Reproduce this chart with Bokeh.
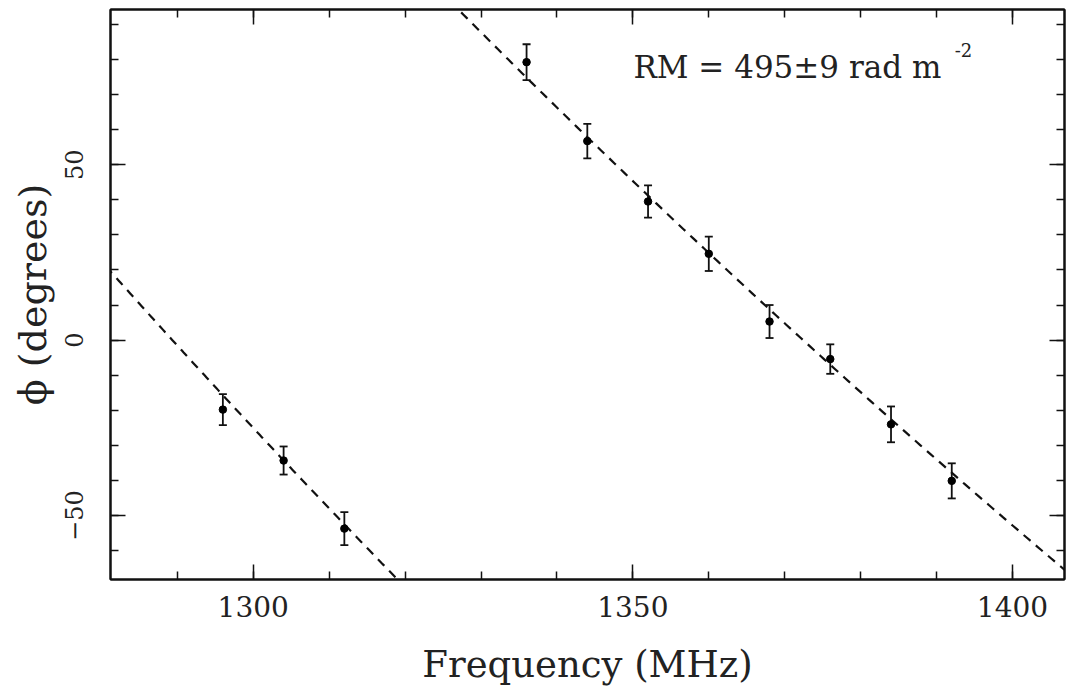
import numpy as np
from bokeh.plotting import figure
from bokeh.models import (Range1d, LinearAxis, SingleIntervalTicker, Whisker,
                          TeeHead, ColumnDataSource, Label)
from bokeh.embed import file_html
from bokeh.resources import INLINE

# ---- data ----
freq_low = [1296, 1304, 1312]
phi_low = [-19.8, -34.3, -53.7]
err_low = [4.4, 4.0, 4.7]

freq_high = [1336, 1344, 1352, 1360, 1368, 1376, 1384, 1392]
phi_high = [79.2, 56.7, 39.5, 24.6, 5.3, -5.4, -24.0, -40.1]
err_high = [5.1, 4.9, 4.6, 4.9, 4.7, 4.2, 5.1, 5.0]

# rotation-measure fit: phi = PHI0 + RM * lambda^2 (deg), two 180-degree branches
RM = 495
RM_ERR = 9
PHI0 = 86.7
branch_low = 9
branch_high = 8
fit_low_span = [1275, 1325]
fit_high_span = [1320, 1410]

y_tick_labels = {-50: "\u221250", 0: "0", 50: "50"}

C_MHZ = 299.792458  # speed of light, m * MHz


def fit_curve(span, branch):
    f = np.linspace(span[0], span[1], 200)
    lam2 = (C_MHZ / f) ** 2
    return f, PHI0 + np.degrees(RM * lam2) - 180.0 * branch


FONT = "DejaVu Serif"

p = figure(width=1074, height=690,
           x_range=Range1d(1281.2, 1406.85), y_range=Range1d(-68.2, 94.2),
           output_backend="svg", toolbar_location=None,
           min_border_left=110, min_border_top=9, min_border_right=10,
           min_border_bottom=111,
           x_axis_label="Frequency (MHz)", y_axis_label="\u03d5 (degrees)")
p.background_fill_color = "white"
p.border_fill_color = "white"
p.grid.visible = False
p.outline_line_color = "#111111"
p.outline_line_width = 2

p.xaxis.ticker = SingleIntervalTicker(interval=50, num_minor_ticks=5)
p.yaxis.ticker = SingleIntervalTicker(interval=50, num_minor_ticks=5)
p.yaxis.major_label_overrides = y_tick_labels


def style_axis(ax):
    ax.axis_line_color = "#111111"
    ax.axis_line_width = 2
    ax.major_tick_in = 15
    ax.major_tick_out = 0
    ax.minor_tick_in = 8
    ax.minor_tick_out = 0
    ax.major_tick_line_color = "#111111"
    ax.minor_tick_line_color = "#111111"
    ax.major_tick_line_width = 1.5
    ax.minor_tick_line_width = 1.5
    ax.major_label_text_font = FONT
    ax.major_label_text_color = "#222222"
    ax.axis_label_text_font = FONT
    ax.axis_label_text_font_style = "normal"
    ax.axis_label_text_color = "#222222"


for ax in p.xaxis + p.yaxis:
    style_axis(ax)

p.xaxis.major_label_text_font_size = "28px"
p.xaxis.major_label_standoff = 16
p.xaxis.axis_label_text_font_size = "37px"
p.xaxis.axis_label_standoff = 23

p.yaxis.major_label_text_font_size = "24px"
p.yaxis.major_label_orientation = "vertical"
p.yaxis.major_label_standoff = 27
p.yaxis.axis_label_text_font_size = "38px"
p.yaxis.axis_label_standoff = 8

top = LinearAxis(ticker=SingleIntervalTicker(interval=50, num_minor_ticks=5))
right = LinearAxis(ticker=SingleIntervalTicker(interval=50, num_minor_ticks=5))
for ax in (top, right):
    style_axis(ax)
    ax.major_label_text_font_size = "0px"
    ax.major_label_text_color = None
    ax.major_label_standoff = 0
p.add_layout(top, "above")
p.add_layout(right, "right")

# fit lines
for span, br in ((fit_low_span, branch_low), (fit_high_span, branch_high)):
    fx, fy = fit_curve(span, br)
    p.line(fx, fy, line_color="#111111", line_width=2.2, line_dash="9 7")

# data with error bars
for fr, ph, er in ((freq_low, phi_low, err_low), (freq_high, phi_high, err_high)):
    src = ColumnDataSource(dict(x=fr, y=ph,
                                lower=[a - b for a, b in zip(ph, er)],
                                upper=[a + b for a, b in zip(ph, er)]))
    w = Whisker(base="x", upper="upper", lower="lower", source=src,
                line_color="#111111", line_width=1.8,
                upper_head=TeeHead(size=8, line_color="#111111", line_width=1.8),
                lower_head=TeeHead(size=8, line_color="#111111", line_width=1.8))
    p.add_layout(w)
    p.scatter("x", "y", source=src, marker="circle", size=7.5,
              fill_color="black", line_color="black")

p.add_layout(Label(x=1350.07, y=77.9, text=f"RM = {RM}\u00b1{RM_ERR} rad m",
                   text_font=FONT, text_font_size="31px", text_color="#222222",
                   text_baseline="alphabetic"))
p.add_layout(Label(x=1392.4, y=82.6, text="-2",
                   text_font=FONT, text_font_size="18px", text_color="#222222",
                   text_baseline="alphabetic"))

open("out.html", "w").write(file_html(p, INLINE))
